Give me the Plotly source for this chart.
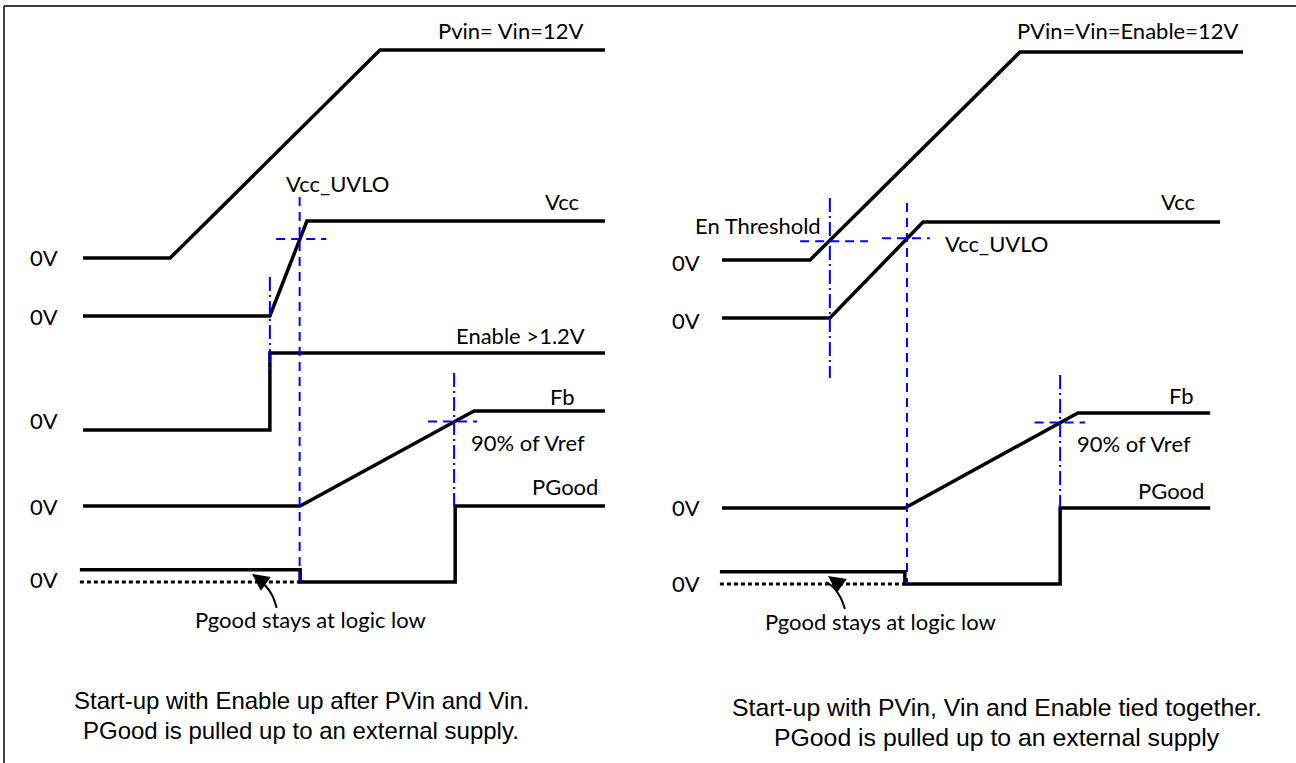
import plotly.graph_objects as go
from plotly.subplots import make_subplots

W, H = 1296, 763

# ---------------- data: time (arbitrary units) / normalised level (0..1 of final) --------------
# Left panel: start-up with Enable up after PVin and Vin
L_pvin_t = [0, 16.7, 56.9, 100]
L_pvin_v = [0, 0, 1, 1]
L_vcc_t = [0, 35.8, 42.9, 100]
L_vcc_v = [0, 0, 1, 1]
L_en_t = [0, 35.8, 35.8, 100]
L_en_v = [0, 0, 1, 1]
L_fb_t = [0, 41.6, 74.9, 100]
L_fb_v = [0, 0, 1, 1]
L_pg_t = [-0.6, 41.6, 41.6, 71.3, 71.3, 100]
L_pg_v = [0.16, 0.16, 0, 0, 1, 1]
L_pglow_t = [-0.6, 41.6]
L_pglow_v = [0, 0]
L_t_en = 35.8        # enable edge
L_t_uvlo = 41.5      # Vcc crosses UVLO
L_t_pg = 71.1        # Fb reaches 90% Vref
L_uvlo_lvl = 0.81
L_vref_lvl = 0.89

# Right panel: PVin, Vin and Enable tied together
R_pvin_t = [0, 16.9, 57.2, 100]
R_pvin_v = [0, 0, 1, 1]
R_vcc_t = [0, 20.7, 38.6, 95.6]
R_vcc_v = [0, 0, 1, 1]
R_fb_t = [0, 35.1, 68.3, 93.7]
R_fb_v = [0, 0, 1, 1]
R_pg_t = [-0.4, 35.1, 35.1, 64.9, 64.9, 93.7]
R_pg_v = [0.16, 0.16, 0, 0, 1, 1]
R_pglow_t = [-0.4, 35.1]
R_pglow_v = [0, 0]
R_t_en = 20.7
R_t_uvlo = 35.5
R_t_pg = 64.9
R_en_lvl = 0.09
R_uvlo_lvl = 0.83
R_vref_lvl = 0.9

# ---------------- layout of rows (baseline / amplitude in diagram units, y grows down) -----------
L_rows = {"pvin": (258, 208), "vcc": (316, 95), "en": (430, 77), "fb": (506, 95), "pg": (582, 76)}
R_rows = {"pvin": (260, 208), "vcc": (318, 96), "fb": (508, 95), "pg": (584, 76)}


def ry(vals, row):
    base, amp = row
    return [base - v * amp for v in vals]


fig = make_subplots(rows=1, cols=2, horizontal_spacing=0)

BLACK = dict(color="black", width=3.5)
BLUE_DASH = dict(color="#0000ff", width=2, dash="9px,6px")
BLUE_DDOT = dict(color="#0000ff", width=2, dash="14px,4px,2px,4px")


def add(col, x, y, line, shape="linear"):
    fig.add_trace(go.Scatter(x=x, y=y, mode="lines", line=dict(**line, shape=shape),
                             hoverinfo="skip", showlegend=False), row=1, col=col)


# ---- left panel ----
add(1, L_pvin_t, ry(L_pvin_v, L_rows["pvin"]), BLACK)
add(1, L_vcc_t, ry(L_vcc_v, L_rows["vcc"]), BLACK)
add(1, L_en_t, ry(L_en_v, L_rows["en"]), BLACK)
add(1, L_fb_t, ry(L_fb_v, L_rows["fb"]), BLACK)
add(1, L_pg_t, ry(L_pg_v, L_rows["pg"]), BLACK)
add(1, L_pglow_t, ry(L_pglow_v, L_rows["pg"]), dict(color="black", width=3, dash="4px,3px"))
# crosshairs
add(1, [L_t_en, L_t_en], [277, 373], BLUE_DDOT)
add(1, [L_t_uvlo, L_t_uvlo], [197, 582], BLUE_DASH)
uv_y = ry([L_uvlo_lvl], L_rows["vcc"])[0]
add(1, [L_t_uvlo - 4.5, L_t_uvlo + 5.1], [uv_y, uv_y], BLUE_DASH)
add(1, [L_t_pg, L_t_pg], [373, 506], BLUE_DDOT)
vr_y = ry([L_vref_lvl], L_rows["fb"])[0]
add(1, [L_t_pg - 5, L_t_pg + 4.4], [vr_y, vr_y], BLUE_DASH)
# curved arrow tail
add(1, [37.1, 36.3, 35.0, 33.5], [608, 596, 586, 580], dict(color="black", width=2), shape="spline")

# ---- right panel ----
add(2, R_pvin_t, ry(R_pvin_v, R_rows["pvin"]), BLACK)
add(2, R_vcc_t, ry(R_vcc_v, R_rows["vcc"]), BLACK)
add(2, R_fb_t, ry(R_fb_v, R_rows["fb"]), BLACK)
add(2, R_pg_t, ry(R_pg_v, R_rows["pg"]), BLACK)
add(2, R_pglow_t, ry(R_pglow_v, R_rows["pg"]), dict(color="black", width=3, dash="4px,3px"))
add(2, [R_t_en, R_t_en], [198, 378], BLUE_DDOT)
en_y = ry([R_en_lvl], R_rows["pvin"])[0]
add(2, [R_t_en - 5.7, R_t_en + 7.3], [en_y, en_y], BLUE_DASH)
add(2, [R_t_uvlo, R_t_uvlo], [203, 584], BLUE_DASH)
ru_y = ry([R_uvlo_lvl], R_rows["vcc"])[0]
add(2, [R_t_uvlo - 4.8, R_t_uvlo + 4.4], [ru_y, ru_y], BLUE_DASH)
add(2, [R_t_pg, R_t_pg], [375, 508], BLUE_DDOT)
rv_y = ry([R_vref_lvl], R_rows["fb"])[0]
add(2, [R_t_pg - 4.9, R_t_pg + 4.8], [rv_y, rv_y], BLUE_DASH)
add(2, [23.6, 22.7, 21.5, 20.0], [609, 597, 588, 582], dict(color="black", width=2), shape="spline")

# ---------------- axes ----------------
# left: t=0 -> x=83px, t=100 -> x=605px ; right: t=0 -> 722px, t=100 -> 1243px
lsc = (605 - 83) / 100
rsc = (1243 - 722) / 100
fig.update_xaxes(range=[-83 / lsc, (648 - 83) / lsc], row=1, col=1)
fig.update_xaxes(range=[-(722 - 648) / rsc, (1296 - 722) / rsc], row=1, col=2)
fig.update_xaxes(visible=False, showgrid=False, zeroline=False, fixedrange=True)
fig.update_yaxes(range=[H, 0], visible=False, showgrid=False, zeroline=False, fixedrange=True)
fig.layout.xaxis.domain = [0, 648 / W]
fig.layout.xaxis2.domain = [648 / W, 1]

LBL = "Lato, 'Open Sans', sans-serif"
CAP = "'Liberation Sans', Arial, sans-serif"


def txt(px, py, s, size=22, anchor="center", family=LBL):
    fig.add_annotation(x=px / W, y=1 - py / H, xref="paper", yref="paper", text=s,
                       showarrow=False, xanchor=anchor, yanchor="middle",
                       font=dict(family=family, size=size, color="black"))


# left labels
txt(510, 30, "Pvin= Vin=12V")
txt(337, 183, "Vcc_UVLO")
txt(562, 201, "Vcc")
txt(520, 335, "Enable >1.2V")
txt(562, 396, "Fb")
txt(528, 442, "90% of Vref")
txt(565, 486, "PGood")
for yy in (258, 316, 420, 506, 579):
    txt(44, yy, "0V")
txt(310, 619, "Pgood stays at logic low")
txt(301, 700, "Start-up with Enable up after PVin and Vin.", 24, family=CAP)
txt(301, 730, "PGood is pulled up to an external supply.", 24, family=CAP)

# right labels
txt(1127, 30, "PVin=Vin=Enable=12V")
txt(1178, 201, "Vcc")
txt(823, 225, "En Threshold", anchor="right")
txt(943, 243, "Vcc_UVLO", anchor="left")
txt(1181, 395, "Fb")
txt(1134, 443, "90% of Vref")
txt(1171, 490, "PGood")
for yy in (262, 320, 507, 583):
    txt(686, yy, "0V")
txt(880, 621, "Pgood stays at logic low")
txt(997, 707, "Start-up with PVin, Vin and Enable tied together.", 24.8, family=CAP)
txt(997, 737, "PGood is pulled up to an external supply", 24.8, family=CAP)

# arrow heads (short arrows along curve end)
for (hx, hy, tx, ty) in [(252, 574, 266, 584), (828, 576, 842, 586)]:
    fig.add_annotation(x=hx / W, y=1 - hy / H, ax=tx - hx, ay=ty - hy,
                       xref="paper", yref="paper", axref="pixel", ayref="pixel",
                       text="", showarrow=True, arrowhead=2, arrowsize=1.7, arrowwidth=2,
                       arrowcolor="black")

# frame (top and left edges of the original figure box)
fig.add_shape(type="line", xref="paper", yref="paper", x0=4 / W, x1=1, y0=1 - 6 / H, y1=1 - 6 / H,
              line=dict(color="black", width=1.5))
fig.add_shape(type="line", xref="paper", yref="paper", x0=4 / W, x1=4 / W, y0=0, y1=1 - 6 / H,
              line=dict(color="black", width=1.5))

fig.update_layout(width=W, height=H, margin=dict(l=0, r=0, t=0, b=0),
                  paper_bgcolor="white", plot_bgcolor="white", showlegend=False)

fig.write_html("out.html", config={"displayModeBar": False},
               post_script="document.body.style.margin='0';document.body.style.overflow='hidden';")
